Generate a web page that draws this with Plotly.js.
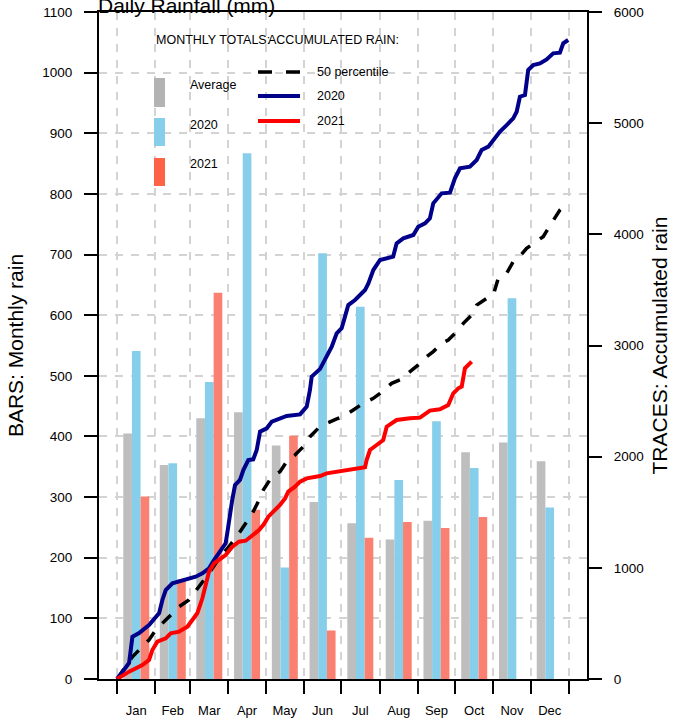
<!DOCTYPE html>
<html>
<head>
<meta charset="utf-8">
<script src="https://cdn.plot.ly/plotly-3.0.1.min.js"></script>
<style>html,body{margin:0;padding:0;background:#fff;}#chart{width:688px;height:719px;}</style>
</head>
<body>
<div id="chart"></div>
<script>
// ---- data ----
const months = ['Jan','Feb','Mar','Apr','May','Jun','Jul','Aug','Sep','Oct','Nov','Dec'];
const monthStart = [0,31,59,90,120,151,181,212,243,273,304,334,365];
const monthMid = [15.5,45,74.5,105,135.5,166,196.5,227.5,258,288.5,319,349.5];

const barAverage = [405,353,430,440,385,292,257,230,261,374,390,359];
const bar2020 = [541,356,490,867,184,702,614,328,425,348,628,283];
const bar2021 = [301,164,637,279,401,80,233,259,249,267,null,null];

const day2020 = [0,9.7,12.4,17.8,25.8,30,34,36.6,39.3,44.7,50,58,63.5,68.9,74.3,78.3,82.4,87.7,89,90.4,93,95.3,99.3,102,106,110,112.8,115.5,120.9,125,131.6,137,147.8,153.2,155.8,157.2,164,169.3,173.4,177.4,181.4,184.1,186.8,192.2,196.2,200.3,203,207,212.4,217.8,223,225.8,231.2,239.3,243.3,248.7,252.7,255.4,262.2,268.9,272.9,277,285,290.5,294.5,299.9,303.9,309.3,314.7,320,322.8,325.4,329.5,332.1,336.2,341.6,347,352.3,357.7,360.4,364.4];
const acc2020 = [0,144,380,413,486,548,593,711,800,861,875,897,920,950,995,1070,1131,1221,1311,1430,1610,1745,1790,1880,1970,1976,2060,2225,2255,2315,2345,2366,2380,2450,2600,2720,2790,2900,2990,3110,3155,3260,3364,3409,3454,3499,3559,3679,3769,3784,3799,3919,3964,3994,4069,4099,4144,4279,4369,4375,4504,4594,4609,4669,4759,4789,4849,4924,4983,5043,5103,5238,5253,5478,5523,5538,5574,5628,5634,5718,5748];

const dayP50 = [0,12.4,25.8,31.2,39.3,50,58,66.2,74.3,82.4,90.4,98.5,103.9,109.3,114.7,118.1,125,131.6,137,143.7,150.4,155.8,162.5,169.3,177.4,182.8,190.8,198.9,207,212.4,221.8,228.5,236.6,243.3,250.1,255.4,262.2,267.5,275.6,279.7,287.7,290.5,298.5,303.9,307.9,314.7,320,324,330.8,336.2,344.2,348.3,353.7,357.7,360.5];
const accP50 = [0,200,351,441,531,650,711,830,951,1086,1190,1311,1400,1490,1610,1700,1820,1865,1955,2015,2090,2180,2255,2300,2340,2360,2420,2480,2525,2570,2660,2690,2765,2825,2900,2945,3020,3050,3139,3199,3289,3364,3424,3454,3604,3649,3754,3784,3874,3919,3979,4054,4144,4219,4250];

const day2021 = [0,9.7,20.4,25.8,28.5,32.5,39.3,43.3,50,56.8,60.8,64.8,68.9,71.6,74.3,78.3,82.4,87.7,93.1,98.5,103.9,109.3,114.7,118.4,122.2,126.2,131.6,135.7,138.3,143.7,147.8,153.2,164,169.3,180,193.6,200.3,201.6,204.3,209.7,215,217.8,225.8,236.6,244.7,252.7,260.8,267.5,271.6,275.6,278.4,281,286.4];
const acc2021 = [0,66,126,171,261,336,366,411,426,471,531,591,726,861,966,1041,1070,1115,1190,1235,1244,1295,1340,1390,1460,1505,1565,1625,1685,1730,1775,1805,1826,1850,1871,1889,1905,1970,2060,2105,2150,2270,2330,2345,2351,2414,2426,2465,2570,2615,2630,2795,2855];

const barLegend = ['Average','2020','2021'];
const lineLegend = ['50 percentile','2020','2021'];

// ---- styles ----
const FONT = 'Liberation Sans, Arial, Helvetica, sans-serif';
const cGray = '#BEBEBE', cBlue = '#87CEEB', cSalmon = '#FA8072';

const traces = [
  {type:'bar', x:monthMid, y:barAverage, width:7, offset:-10.5, marker:{color:cGray, line:{width:0}}, yaxis:'y', hoverinfo:'skip'},
  {type:'bar', x:monthMid, y:bar2020, width:7, offset:-3.5, marker:{color:cBlue, line:{width:0}}, yaxis:'y', hoverinfo:'skip'},
  {type:'bar', x:monthMid, y:bar2021, width:7, offset:3.5, marker:{color:cSalmon, line:{width:0}}, yaxis:'y', hoverinfo:'skip'},
  {type:'scatter', mode:'lines', x:dayP50, y:accP50, yaxis:'y2', line:{color:'#000000', width:3.5, dash:'12px,12px'}, hoverinfo:'skip'},
  {type:'scatter', mode:'lines', x:day2020, y:acc2020, yaxis:'y2', line:{color:'#00008B', width:4}, hoverinfo:'skip'},
  {type:'scatter', mode:'lines', x:day2021, y:acc2021, yaxis:'y2', line:{color:'#FF0000', width:4}, hoverinfo:'skip'}
];

// legend helpers (paper coords)
const L = 99, W = 488, B = 679, H = 667;
const px = v => (v - L) / W;
const py = v => (B - v) / H;

const shapes = [
  {type:'rect', xref:'paper', yref:'paper', x0:px(154), x1:px(165), y0:py(107), y1:py(78), fillcolor:'#B3B3B3', line:{width:0}},
  {type:'rect', xref:'paper', yref:'paper', x0:px(154), x1:px(165), y0:py(146), y1:py(118), fillcolor:cBlue, line:{width:0}},
  {type:'rect', xref:'paper', yref:'paper', x0:px(154), x1:px(165), y0:py(186), y1:py(158), fillcolor:'#FF6347', line:{width:0}},
  {type:'line', xref:'paper', yref:'paper', x0:px(258), x1:px(300), y0:py(72), y1:py(72), line:{color:'#000', width:3.5, dash:'14px,14px'}},
  {type:'line', xref:'paper', yref:'paper', x0:px(258), x1:px(300), y0:py(96), y1:py(96), line:{color:'#00008B', width:4}},
  {type:'line', xref:'paper', yref:'paper', x0:px(258), x1:px(300), y0:py(121), y1:py(121), line:{color:'#FF0000', width:4}}
];

const ann = (text, x, y, size) => ({text, xref:'paper', yref:'paper', x:px(x), y:py(y), xanchor:'left', yanchor:'middle', showarrow:false, font:{family:FONT, size:size||12.5, color:'#000'}});

const annotations = [
  ann('MONTHLY TOTALS:', 154, 40),
  ann('ACCUMULATED RAIN:', 266, 40),
  ann(barLegend[0], 188, 85),
  ann(barLegend[1], 188, 125),
  ann(barLegend[2], 188, 164),
  ann(lineLegend[0], 315, 72),
  ann(lineLegend[1], 315, 96),
  ann(lineLegend[2], 315, 121)
];

const gridStyle = {gridcolor:'#D3D3D3', gridwidth:2, griddash:'8px,8px'};

const layout = {
  width:688, height:719,
  margin:{l:99, r:101, t:12, b:40, pad:0},
  paper_bgcolor:'#fff', plot_bgcolor:'#fff',
  font:{family:FONT, color:'#000', size:13.5},
  showlegend:false,
  barmode:'overlay',
  hovermode:false,
  title:{text:'Daily Rainfall (mm)', font:{family:FONT, size:21, color:'#000'}, x:98/688, xanchor:'left', xref:'container', yref:'container', y:1-(-1)/719, yanchor:'middle'},
  xaxis:{
    range:[-14.6, 379.6], tickmode:'array', tickvals:monthMid, ticktext:months,
    ticks:'', showgrid:false, zeroline:false, showline:true, mirror:true, linecolor:'#000', linewidth:2,
    tickfont:{size:13}, ticklabelstandoff:18,
    minor:Object.assign({tickmode:'array', tickvals:monthStart, ticks:'outside', ticklen:13, tickwidth:2, tickcolor:'#000', showgrid:true}, gridStyle)
  },
  yaxis:Object.assign({
    range:[0,1100], tickmode:'linear', tick0:0, dtick:100, ticks:'outside', ticklen:13, tickwidth:2, tickcolor:'#000',
    showline:true, mirror:true, linecolor:'#000', linewidth:2, showgrid:true, zeroline:false,
    tickfont:{size:13.5}, ticklabelstandoff:9,
    title:{text:'BARS: Monthly rain', font:{size:21}, standoff:13}
  }, gridStyle),
  yaxis2:{
    overlaying:'y', side:'right', range:[0,6000], tickmode:'linear', tick0:0, dtick:1000,
    ticks:'outside', ticklen:13, tickwidth:2, tickcolor:'#000', showline:true, linecolor:'#000', linewidth:2,
    showgrid:false, zeroline:false, tickfont:{size:13.5}, ticklabelstandoff:9,
    title:{text:'TRACES: Accumulated rain', font:{size:21}, standoff:10}
  },
  shapes, annotations
};

Plotly.newPlot('chart', traces, layout, {displayModeBar:false, staticPlot:true});
</script>
</body>
</html>
